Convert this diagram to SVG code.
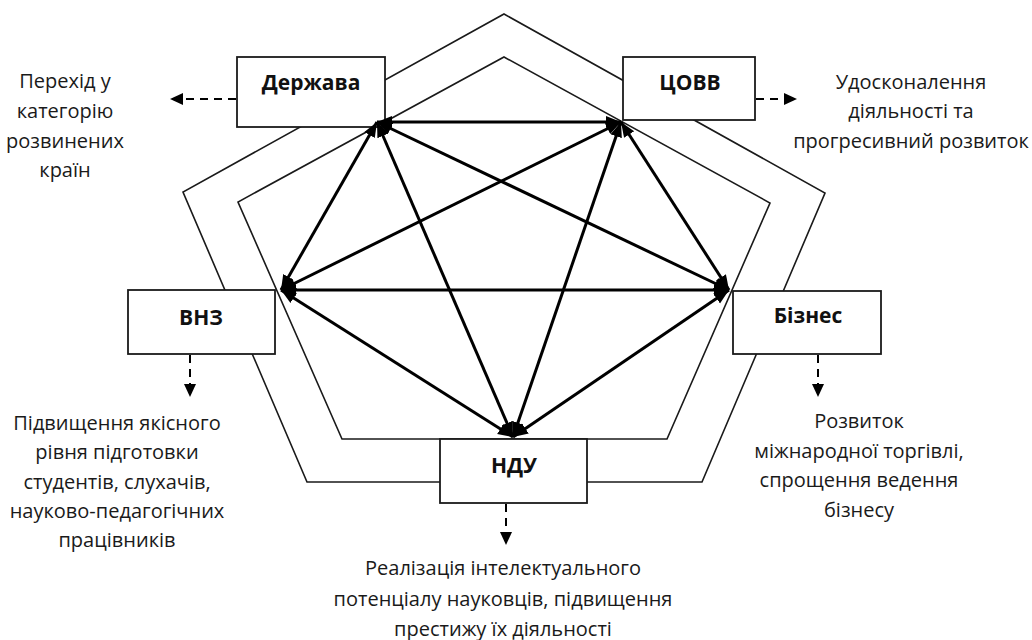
<svg xmlns="http://www.w3.org/2000/svg" width="1032" height="640" viewBox="0 0 1032 640">
  <style>
    .frame { fill: none; stroke: #1a1a1a; stroke-width: 1.6; stroke-linejoin: miter; }
    .box { fill: #ffffff; stroke: #1a1a1a; stroke-width: 1.8; }
    .lbl { font-family: "Open Sans", "Noto Sans", "DejaVu Sans", sans-serif; font-weight: 700; font-size: 21px; fill: #111; text-anchor: middle; }
    .txt { font-family: "Open Sans", "Noto Sans", "DejaVu Sans", sans-serif; font-size: 20px; fill: #1a1a1a; text-anchor: middle; }
    .link { fill: none; stroke: #000; stroke-width: 3; marker-start: url(#head); marker-end: url(#head); }
    .out { fill: none; stroke: #000; stroke-width: 2; stroke-dasharray: 8 6; marker-end: url(#small); }
  </style>
  <defs>
    <marker id="head" markerUnits="userSpaceOnUse" markerWidth="16" markerHeight="14" refX="15" refY="7" orient="auto-start-reverse">
      <path d="M0,1 L15,7 L0,13 z" fill="#000"/>
    </marker>
    <marker id="small" markerUnits="userSpaceOnUse" markerWidth="14" markerHeight="14" refX="13" refY="6.5" orient="auto">
      <path d="M0,0.5 L13,6.5 L0,12.5 z" fill="#000"/>
    </marker>
  </defs>

  <g id="frames">
    <polygon class="frame" points="504,14 825,193 702,482 307,482 183,192"/>
    <polygon class="frame" points="504,57 770,203 667,439 342,439 238,202"/>
  </g>

  <g id="node-derzhava">
    <rect class="box" x="237" y="57" width="148" height="70"/>
    <text class="lbl" x="311" y="90">Держава</text>
  </g>
  <g id="node-tsovv">
    <rect class="box" x="623" y="57" width="132" height="63"/>
    <text class="lbl" x="690" y="90">ЦОВВ</text>
  </g>
  <g id="node-vnz">
    <rect class="box" x="128" y="290" width="147" height="64"/>
    <text class="lbl" x="201" y="325">ВНЗ</text>
  </g>
  <g id="node-biznes">
    <rect class="box" x="733" y="291" width="148" height="63"/>
    <text class="lbl" x="808" y="323">Бізнес</text>
  </g>
  <g id="node-ndu">
    <rect class="box" x="440" y="439" width="147" height="64"/>
    <text class="lbl" x="514" y="473">НДУ</text>
  </g>

  <g id="connectors">
    <line class="link" x1="377" y1="122" x2="621" y2="122"/>
    <line class="link" x1="377" y1="122" x2="281" y2="290"/>
    <line class="link" x1="377" y1="122" x2="729" y2="290"/>
    <line class="link" x1="377" y1="122" x2="513" y2="437"/>
    <line class="link" x1="621" y1="122" x2="281" y2="290"/>
    <line class="link" x1="621" y1="122" x2="729" y2="290"/>
    <line class="link" x1="621" y1="122" x2="513" y2="437"/>
    <line class="link" x1="281" y1="290" x2="729" y2="290"/>
    <line class="link" x1="281" y1="290" x2="513" y2="437"/>
    <line class="link" x1="729" y1="290" x2="513" y2="437"/>

    <line class="out" x1="236" y1="99" x2="170" y2="99"/>
    <line class="out" x1="756" y1="99" x2="797" y2="99"/>
    <line class="out" x1="190" y1="355" x2="190" y2="397"/>
    <line class="out" x1="818" y1="355" x2="818" y2="397"/>
    <line class="out" x1="506" y1="504" x2="506" y2="545"/>
  </g>

  <g id="out-derzhava">
    <text class="txt" x="65" y="88">Перехід у</text>
    <text class="txt" x="65" y="118">категорію</text>
    <text class="txt" x="65" y="148">розвинених</text>
    <text class="txt" x="65" y="177">країн</text>
  </g>
  <g id="out-tsovv">
    <text class="txt" x="911" y="89">Удосконалення</text>
    <text class="txt" x="911" y="118">діяльності та</text>
    <text class="txt" x="911" y="148">прогресивний розвиток</text>
  </g>
  <g id="out-vnz">
    <text class="txt" x="117" y="430">Підвищення якісного</text>
    <text class="txt" x="117" y="459">рівня підготовки</text>
    <text class="txt" x="117" y="489">студентів, слухачів,</text>
    <text class="txt" x="117" y="518">науково-педагогічних</text>
    <text class="txt" x="117" y="547">працівників</text>
  </g>
  <g id="out-biznes">
    <text class="txt" x="859" y="428">Розвиток</text>
    <text class="txt" x="859" y="458">міжнародної торгівлі,</text>
    <text class="txt" x="859" y="487">спрощення ведення</text>
    <text class="txt" x="859" y="517">бізнесу</text>
  </g>
  <g id="out-ndu">
    <text class="txt" x="503" y="575">Реалізація інтелектуального</text>
    <text class="txt" x="503" y="606">потенціалу науковців, підвищення</text>
    <text class="txt" x="503" y="636">престижу їх діяльності</text>
  </g>
</svg>
